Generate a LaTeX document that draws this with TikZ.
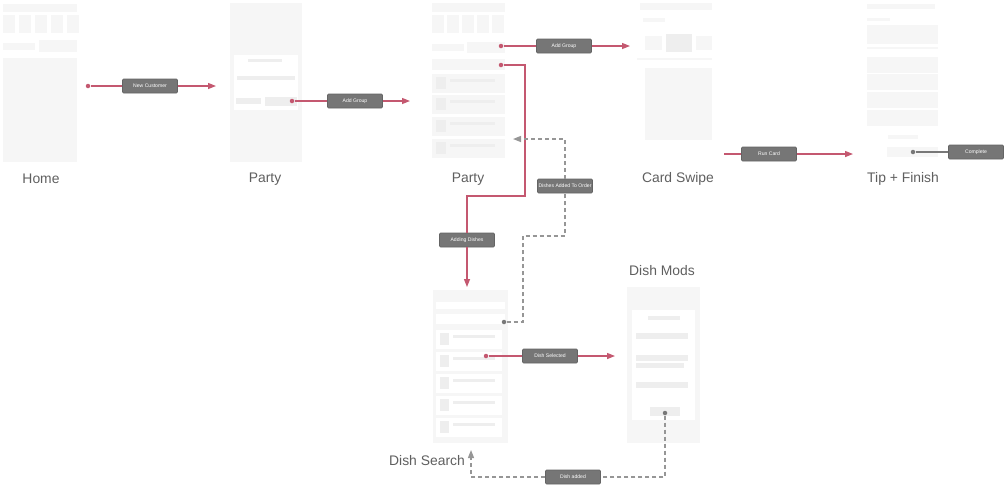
\documentclass[tikz,border=0pt]{standalone}
\usepackage{fontspec}
\setmainfont{Liberation Sans}
\usetikzlibrary{positioning}
\usetikzlibrary{arrows.meta}
\usepackage{xcolor}
\definecolor{flowred}{RGB}{196,88,112}
\definecolor{flowgray}{RGB}{150,150,150}
\definecolor{tagfill}{RGB}{118,118,118}
\definecolor{mockfill}{RGB}{246,246,246}
\definecolor{mockdark}{RGB}{238,238,238}
\definecolor{titlegray}{RGB}{95,95,95}

\begin{document}
\begin{tikzpicture}[
		% pixel-like units, y grows downwards
		x=0.02cm, y=-0.02cm,
		% Style definitions
		tag/.style={draw=tagfill!85!black, fill=tagfill, rounded corners=0.6pt, minimum width=1.1cm, minimum height=0.28cm, inner sep=0pt, text=white, font=\fontsize{2.9}{3.5}\selectfont},
		title/.style={text=titlegray, font=\fontsize{7.9}{9}\selectfont},
		dot/.style={circle, fill=#1, inner sep=0pt, minimum size=0.09cm},
		mock/.style={fill=mockfill},
		mockin/.style={fill=mockdark},
		card/.style={fill=white},
		flowline/.style={line width=0.75pt, draw=flowred},
		flow/.style={flowline, -{Triangle[length=0.16cm, width=0.12cm]}},
		waitline/.style={line width=0.75pt, draw=flowgray, dash pattern=on 0.08cm off 0.06cm},
		wait/.style={waitline, -{Triangle[length=0.16cm, width=0.12cm]}},
		]
		\useasboundingbox (0,0) rectangle (1004,485);

		% Screen: Home
		\fill[mock] (3,4) rectangle (77,12);
		\foreach \x in {3,19,35,51,67} \fill[mock] (\x,15) rectangle ++(12,18);
		\fill[mock] (3,43) rectangle (35,50);
		\fill[mock] (39,40) rectangle (77,52);
		\fill[mock] (3,58) rectangle (77,162);

		% Screen: Party (group dialog)
		\fill[mock] (230,3) rectangle (302,162);
		\fill[card] (234,55) rectangle (298,110);
		\fill[mockin] (248,59) rectangle (282,62);
		\fill[mockin] (237,76) rectangle (295,80);
		\fill[mockin] (236,98) rectangle (261,104);
		\fill[mockin] (265,97) rectangle (297,106);

		% Screen: Party (group list)
		\fill[mock] (432,3) rectangle (505,12);
		\foreach \x in {432,447,462,477,492} \fill[mock] (\x,15) rectangle ++(12,18);
		\fill[mock] (432,44) rectangle (464,51);
		\fill[mock] (467,42) rectangle (505,53);
		\fill[mock] (432,59) rectangle (505,70);
		\foreach \y in {74,95,117,139} {
			\fill[mock] (432,\y) rectangle ++(73,19);
			\fill[mockin] (436,\y+3) rectangle ++(10,12);
			\fill[mockin] (450,\y+5) rectangle ++(45,3);
		}

		% Screen: Card Swipe
		\fill[mock] (640,3) rectangle (712,10);
		\fill[mock] (643,18) rectangle (665,22);
		\fill[mock] (645,36) rectangle (662,50);
		\fill[mockin] (666,34) rectangle (692,52);
		\fill[mock] (696,36) rectangle (712,50);
		\fill[mock] (637,58) rectangle (712,60);
		\fill[mock] (645,68) rectangle (712,140);

		% Screen: Tip + Finish
		\fill[mock] (867,4) rectangle (935,9);
		\fill[mock] (867,18) rectangle (890,21);
		\fill[mock] (867,25) rectangle (938,44);
		\fill[mock] (867,47) rectangle (938,49);
		\foreach \y in {57,74,92,110} \fill[mock] (867,\y) rectangle ++(71,16);
		\fill[mock] (888,135) rectangle (918,139);
		\fill[mock] (887,147) rectangle (938,157);

		% Screen: Dish Search
		\fill[mock] (433,290) rectangle (508,443);
		\fill[card] (436,302) rectangle (505,309);
		\fill[card] (436,314) rectangle (505,324);
		\foreach \y in {330,352,374,396,418} {
			\fill[card] (436,\y) rectangle ++(66,19);
			\fill[mockin] (440,\y+3) rectangle ++(9,12);
			\fill[mockin] (453,\y+5) rectangle ++(42,3);
		}

		% Screen: Dish Mods
		\fill[mock] (627,287) rectangle (700,443);
		\fill[card] (632,310) rectangle (695,420);
		\fill[mockin] (648,316) rectangle (680,320);
		\foreach \y in {333,355,382} \fill[mockin] (636,\y) rectangle ++(52,6);
		\fill[mockin] (636,363) rectangle (684,368);
		\fill[mockdark] (650,407) rectangle (680,416);

		% Screen titles
		\node[title] (tHome) at (41,179) {Home};
		\node[title] (tParty) at (265,179) {Party};
		\node[title] (tGroups) at (468,179) {Party};
		\node[title] (tSwipe) at (678,179) {Card Swipe};
		\node[title] (tTip) at (903,179) {Tip + Finish};
		\node[title] (tMods) at (662,271) {Dish Mods};
		\node[title] (tSearch) at (427,461) {Dish Search};

		% Hotspots on the screens
		\node[dot=flowred] (homeDot) at (88,86) {};
		\node[dot=flowred] (partyDot) at (292,101) {};
		\node[dot=flowred] (groupDot) at (501,46) {};
		\node[dot=flowred] (listDot) at (501,65) {};
		\node[dot=flowred] (searchDot) at (486,356) {};
		\node[dot=flowgray!80!black] (orderDot) at (504,322) {};
		\node[dot=flowgray!80!black] (modsDot) at (665,413) {};
		\node[dot=flowgray!80!black] (tipDot) at (913,152) {};

		% Arrow targets
		\coordinate (partyIn) at (216,86);
		\coordinate (groupsIn) at (410,101);
		\coordinate (swipeIn) at (630,46);
		\coordinate (swipeOut) at (724,154);
		\coordinate (tipIn) at (853,154);
		\coordinate (searchIn) at (467,287);
		\coordinate (groupsBack) at (513,139);
		\coordinate (modsIn) at (615,356);
		\coordinate (searchBack) at (471,450);

		% Transition labels
		\node[tag] (newTag) at (150,86) {New Customer};
		\node[tag] (groupTag) at (355,101) {Add Group};
		\node[tag] (addTag) at (564,46) {Add Group};
		\node[tag] (dishesTag) at (467,240) {Adding Dishes};
		\node[tag] (orderTag) at (565,186) {Dishes Added To Order};
		\node[tag] (selTag) at (550,356) {Dish Selected};
		\node[tag] (runTag) at (769,154) {Run Card};
		\node[tag] (doneTag) at (976,152) {Complete};
		\node[tag] (addedTag) at (573,477) {Dish added};

		% Arrows - forward flow
		\draw[flowline] (homeDot) -- (newTag);
		\draw[flow] (newTag) -- (partyIn);
		\draw[flowline] (partyDot) -- (groupTag);
		\draw[flow] (groupTag) -- (groupsIn);
		\draw[flowline] (groupDot) -- (addTag);
		\draw[flow] (addTag) -- (swipeIn);
		\draw[flowline] (listDot) -| (525,196) -| (dishesTag);
		\draw[flow] (dishesTag) -- (searchIn);
		\draw[flowline] (searchDot) -- (selTag);
		\draw[flow] (selTag) -- (modsIn);
		\draw[flowline] (swipeOut) -- (runTag);
		\draw[flow] (runTag) -- (tipIn);
		\draw[line width=0.75pt, draw=flowgray!80!black] (tipDot) -- (doneTag);

		% Arrows - going back (dashed)
		\draw[waitline] (orderDot) -- (523,322) -- (523,236) -| (orderTag);
		\draw[wait] (orderTag) |- (groupsBack);
		\draw[waitline] (modsDot) |- (addedTag);
		\draw[wait] (addedTag) -| (searchBack);

	\end{tikzpicture}
\end{document}
